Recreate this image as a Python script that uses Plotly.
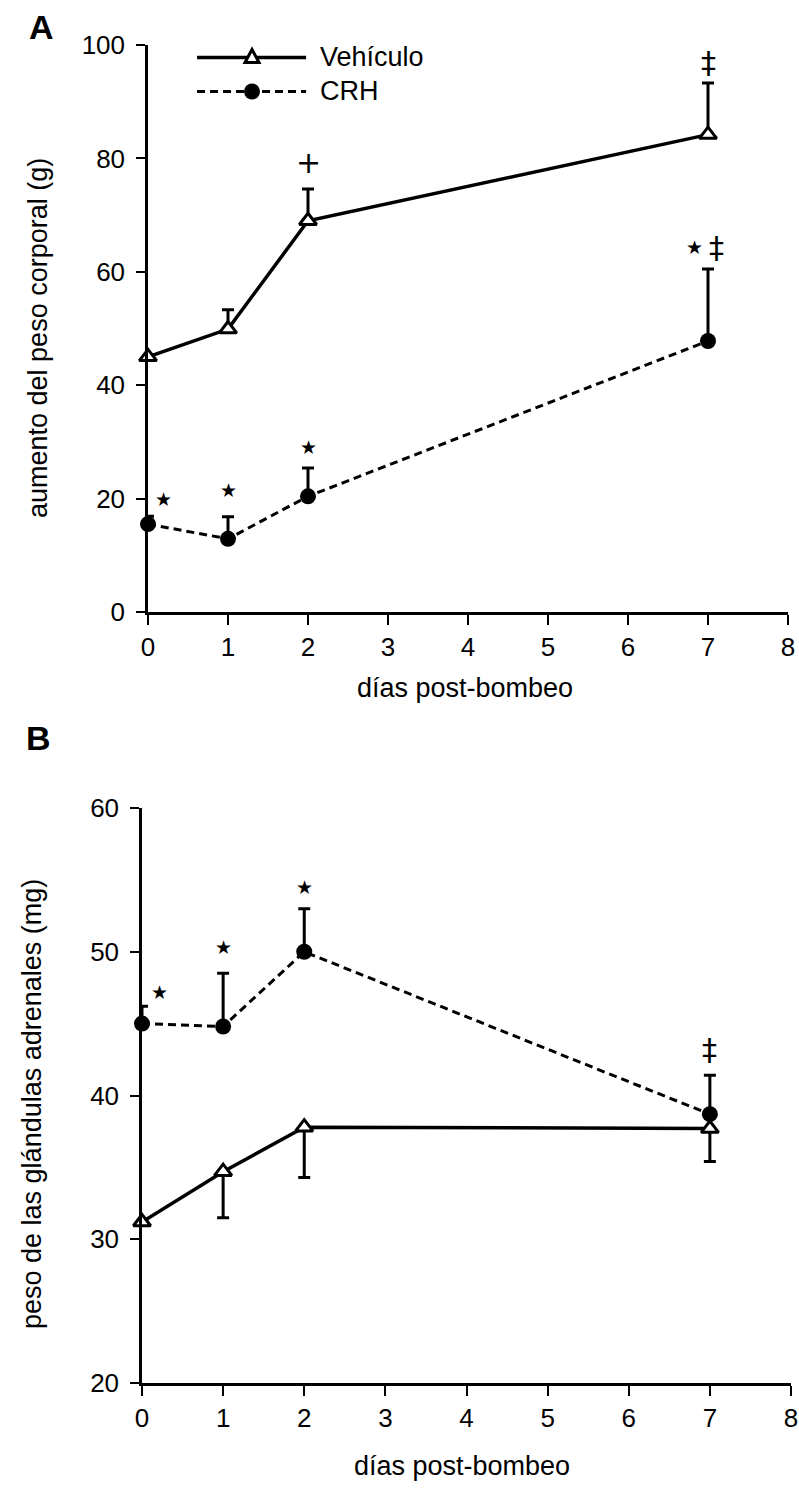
import plotly.graph_objects as go

# ---------------- data ----------------
dias = [0, 1, 2, 7]

# Panel A: aumento del peso corporal (g)
a_vehiculo = [45.0, 49.9, 69.0, 84.2]
a_vehiculo_err = [0.0, 3.4, 5.6, 9.1]
a_crh = [15.5, 12.9, 20.4, 47.8]
a_crh_err = [1.4, 3.9, 5.0, 12.7]

# Panel B: peso de las glándulas adrenales (mg)
b_vehiculo = [31.2, 34.7, 37.8, 37.7]
b_vehiculo_err_down = [0.0, 3.2, 3.5, 2.3]
b_crh = [45.0, 44.8, 50.0, 38.7]
b_crh_err_up = [1.2, 3.7, 3.0, 2.7]

# significance marks (text, x, y)
a_marks_text = ["★", "★", "★", "★", "‡", "+", "‡"]
a_marks_x = [0.19, 1.0, 2.0, 6.83, 7.11, 2.0, 7.0]
a_marks_y = [20.0, 21.5, 29.1, 64.3, 64.3, 79.3, 97.0]

b_marks_text = ["★", "★", "★", "‡"]
b_marks_x = [0.21, 1.0, 2.0, 7.0]
b_marks_y = [47.2, 50.3, 54.5, 43.2]

x_ticks = [0, 1, 2, 3, 4, 5, 6, 7, 8]
a_y_ticks = [0, 20, 40, 60, 80, 100]
b_y_ticks = [20, 30, 40, 50, 60]

x_title = "días post-bombeo"
a_y_title = "aumento del peso corporal (g)"
b_y_title = "peso de las glándulas adrenales (mg)"

FONT = "Liberation Sans, Arial, Helvetica, sans-serif"
W, H = 799, 1490
TICK = 26
TXT = 27

fig = go.Figure()

def err(arr):
    return dict(type="data", array=arr, arrayminus=[0] * len(arr), symmetric=False,
                color="black", thickness=3, width=6)

def err_down(arr):
    return dict(type="data", array=[0] * len(arr), arrayminus=arr, symmetric=False,
                color="black", thickness=3, width=6)

tri_marker = dict(symbol="triangle-up", size=15, color="white",
                  line=dict(color="black", width=3))
dot_marker = dict(symbol="circle", size=16, color="black",
                  line=dict(color="black", width=0))
DASH = "8px,5px"

# Panel A
fig.add_trace(go.Scatter(x=dias, y=a_crh, mode="lines+markers", name="CRH",
                         line=dict(color="black", width=3, dash=DASH),
                         marker=dot_marker, error_y=err(a_crh_err),
                         xaxis="x", yaxis="y", cliponaxis=False, showlegend=False))
fig.add_trace(go.Scatter(x=dias, y=a_vehiculo, mode="lines+markers", name="Vehículo",
                         line=dict(color="black", width=3.5),
                         marker=tri_marker, error_y=err(a_vehiculo_err),
                         xaxis="x", yaxis="y", cliponaxis=False, showlegend=False))

# Panel B
fig.add_trace(go.Scatter(x=dias, y=b_vehiculo, mode="lines+markers", name="Vehículo",
                         line=dict(color="black", width=3.5),
                         marker=tri_marker, error_y=err_down(b_vehiculo_err_down),
                         xaxis="x2", yaxis="y2", cliponaxis=False, showlegend=False))
fig.add_trace(go.Scatter(x=dias, y=b_crh, mode="lines+markers", name="CRH",
                         line=dict(color="black", width=3, dash=DASH),
                         marker=dot_marker, error_y=err(b_crh_err_up),
                         xaxis="x2", yaxis="y2", cliponaxis=False, showlegend=False))

def px_x(p):
    return p / W

def px_y(p):
    return 1 - p / H

axis_common = dict(showgrid=False, zeroline=False, ticks="outside",
                   tickwidth=2, tickcolor="black", showline=True, linecolor="black",
                   automargin=False,
                   tickfont=dict(family=FONT, size=TICK, color="black"))

fig.update_layout(
    width=W, height=H, margin=dict(l=0, r=0, t=0, b=0, autoexpand=False),
    paper_bgcolor="white", plot_bgcolor="white", showlegend=False,
    xaxis=dict(domain=[px_x(148), px_x(788)], range=[0, 8], tickvals=x_ticks,
               anchor="y", linewidth=3, ticklen=10, **axis_common),
    yaxis=dict(domain=[px_y(612), px_y(45)], range=[0, 100], tickvals=a_y_ticks,
               anchor="x", linewidth=2.5, ticklen=9, ticklabelstandoff=6, **axis_common),
    xaxis2=dict(domain=[px_x(142), px_x(791)], range=[0, 8], tickvals=x_ticks,
                anchor="y2", linewidth=3, ticklen=10, **axis_common),
    yaxis2=dict(domain=[px_y(1383), px_y(808)], range=[20, 60], tickvals=b_y_ticks,
                anchor="x2", linewidth=2.5, ticklen=9, ticklabelstandoff=6, **axis_common),
)

annotations = []
def mark_font(t):
    if t == "★":
        return dict(family="DejaVu Sans", size=19, color="black")
    return dict(family="DejaVu Sans", size=30, color="black")

for t, x, y in zip(a_marks_text, a_marks_x, a_marks_y):
    annotations.append(dict(text=t, x=x, y=y, xref="x", yref="y", showarrow=False,
                            font=mark_font(t)))
for t, x, y in zip(b_marks_text, b_marks_x, b_marks_y):
    annotations.append(dict(text=t, x=x, y=y, xref="x2", yref="y2", showarrow=False,
                            font=mark_font(t)))

title_font = dict(family=FONT, size=TXT, color="black")
# axis titles
annotations += [
    dict(text=x_title, x=px_x(465), y=px_y(688), xref="paper", yref="paper",
         xanchor="center", yanchor="middle", showarrow=False, font=title_font),
    dict(text=x_title, x=px_x(462), y=px_y(1466), xref="paper", yref="paper",
         xanchor="center", yanchor="middle", showarrow=False, font=title_font),
    dict(text=a_y_title, x=px_x(38), y=px_y(338), xref="paper", yref="paper",
         xanchor="center", yanchor="middle", textangle=-90, showarrow=False, font=title_font),
    dict(text=b_y_title, x=px_x(32), y=px_y(1104), xref="paper", yref="paper",
         xanchor="center", yanchor="middle", textangle=-90, showarrow=False, font=title_font),
]

# panel letters
annotations.append(dict(text="<b>A</b>", x=px_x(27), y=px_y(27), xref="paper", yref="paper",
                        xanchor="left", yanchor="middle", showarrow=False,
                        font=dict(family=FONT, size=34, color="black")))
annotations.append(dict(text="<b>B</b>", x=px_x(24), y=px_y(738), xref="paper", yref="paper",
                        xanchor="left", yanchor="middle", showarrow=False,
                        font=dict(family=FONT, size=34, color="black")))

# custom legend (panel A)
leg_x0, leg_x1, leg_xm, leg_tx = 0.0766, 0.247, 0.1625, 0.266
leg_y1, leg_y2 = 0.978, 0.918
annotations.append(dict(text="Vehículo", x=leg_tx, y=leg_y1, xref="x domain", yref="y domain",
                        xanchor="left", yanchor="middle", showarrow=False, font=title_font))
annotations.append(dict(text="CRH", x=leg_tx, y=leg_y2, xref="x domain", yref="y domain",
                        xanchor="left", yanchor="middle", showarrow=False, font=title_font))

shapes = [
    dict(type="line", xref="x domain", yref="y domain", x0=leg_x0, x1=leg_x1, y0=leg_y1, y1=leg_y1,
         line=dict(color="black", width=3.5)),
    dict(type="path", xref="x domain", yref="y domain", xsizemode="pixel", ysizemode="pixel",
         xanchor=leg_xm, yanchor=leg_y1, path="M-7,-5 L7,-5 L0,8 Z",
         fillcolor="white", line=dict(color="black", width=3)),
    dict(type="line", xref="x domain", yref="y domain", x0=leg_x0, x1=leg_x1, y0=leg_y2, y1=leg_y2,
         line=dict(color="black", width=3, dash=DASH)),
    dict(type="circle", xref="x domain", yref="y domain", xsizemode="pixel", ysizemode="pixel",
         xanchor=leg_xm, yanchor=leg_y2, x0=-8, x1=8, y0=-8, y1=8,
         fillcolor="black", line=dict(color="black", width=0)),
]

fig.update_layout(annotations=annotations, shapes=shapes)
fig.write_html("out.html")
